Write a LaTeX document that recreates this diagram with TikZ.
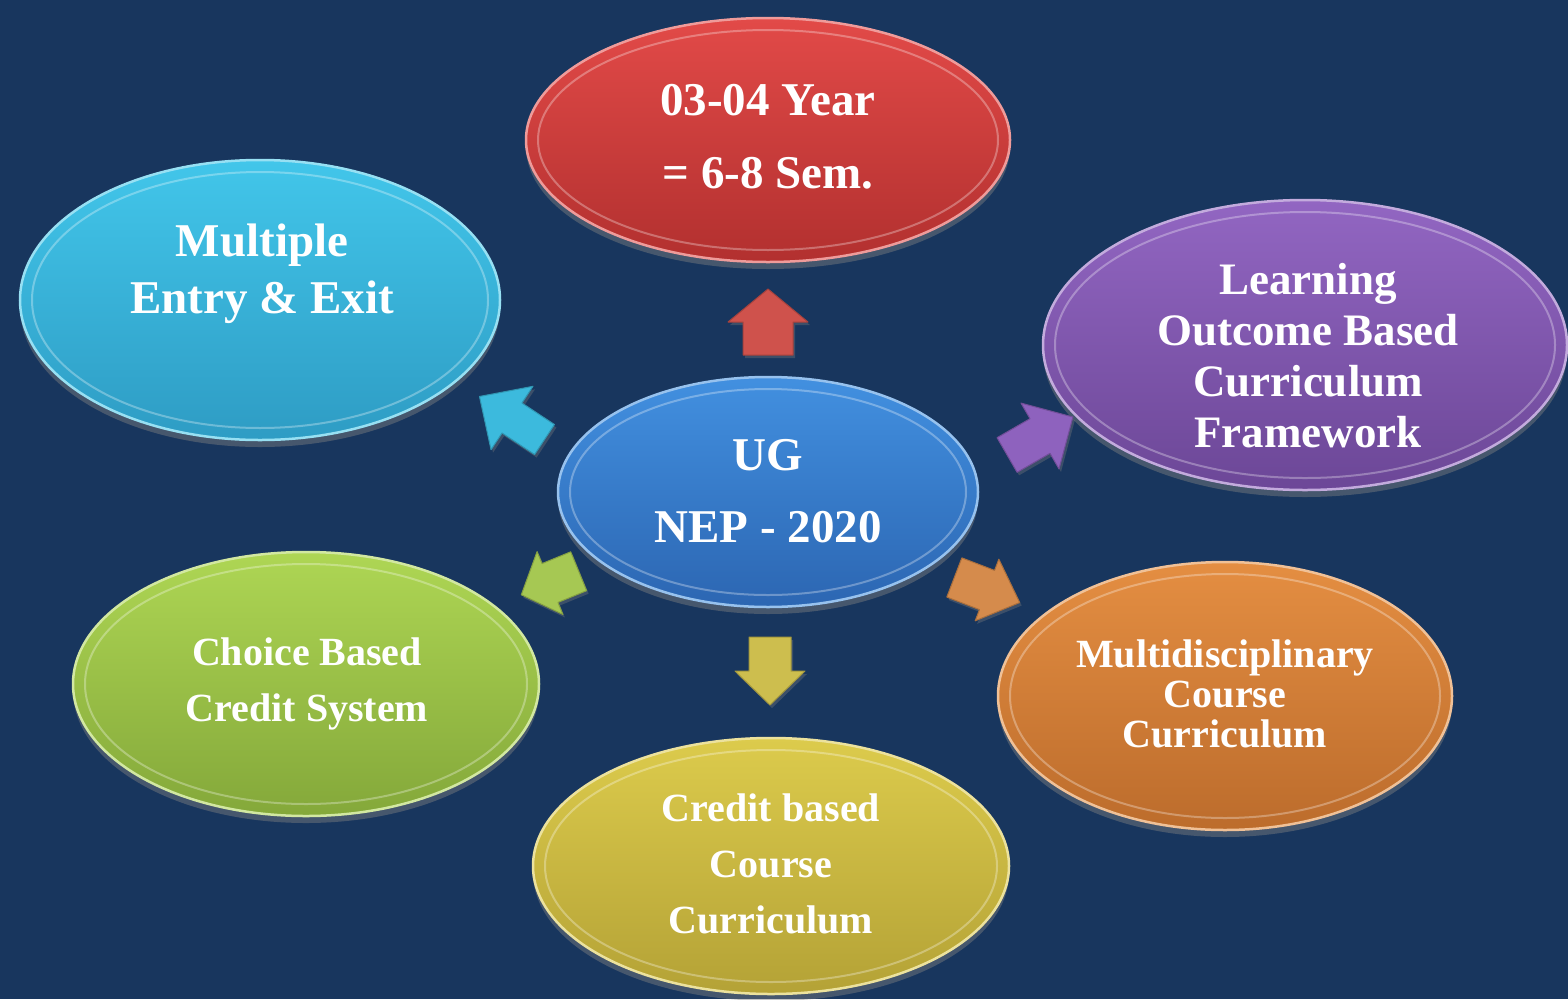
\documentclass[tikz,border=0pt]{standalone}
\usepackage{fontspec}
\setmainfont{Liberation Serif}
\usetikzlibrary{shapes.geometric,shadows}
\definecolor{bg}{HTML}{18365E}
\definecolor{redA}{HTML}{E24A48}\definecolor{redB}{HTML}{B2302F}
\definecolor{cyanA}{HTML}{42C6EA}\definecolor{cyanB}{HTML}{2E9CC4}
\definecolor{purA}{HTML}{9266C2}\definecolor{purB}{HTML}{6C4797}
\definecolor{bluA}{HTML}{4290E0}\definecolor{bluB}{HTML}{2C66B2}
\definecolor{grnA}{HTML}{AED654}\definecolor{grnB}{HTML}{84A83A}
\definecolor{yelA}{HTML}{DCCB4C}\definecolor{yelB}{HTML}{B4A236}
\definecolor{orgA}{HTML}{E48E42}\definecolor{orgB}{HTML}{BC6C2C}
\definecolor{aRedC}{HTML}{CF524C}\definecolor{aYelC}{HTML}{CDBE4E}
\definecolor{aCyanC}{HTML}{3CBADD}\definecolor{aPurC}{HTML}{8E62BE}
\definecolor{aGrnC}{HTML}{A6C853}\definecolor{aOrgC}{HTML}{D58B4C}
\tikzset{
  bubble/.style n args={4}{ellipse, inner sep=0pt, minimum width=#1, minimum height=#2,
    top color=#3, bottom color=#4, draw=#3!55!white, line width=2.5pt,
    drop shadow={opacity=0.45, shadow xshift=0pt, shadow yshift=-7pt}},
  rim/.style={draw=white, opacity=0.3, line width=2pt},
  label/.style={text=white, font=\bfseries, align=center, inner sep=0pt}
}
\newcommand\blockarr[8]{% name x y angle colour halflen headhalf tailhalf
  \coordinate (#1) at (#2,#3);
  \fill[#5, draw=#5!80!black, line width=1pt, line join=round,
    shift={(#1)}, rotate=#4,
    drop shadow={opacity=0.35, shadow xshift=2pt, shadow yshift=-3pt}]
    (-#6,-#8) -- (0,-#8) -- (0,-#7) -- (#6,0) -- (0,#7) -- (0,#8) -- (-#6,#8) -- cycle;}
\begin{document}
\begin{tikzpicture}[x=1pt,y=-1pt]
\fill[bg] (0,0) rectangle (1568,999);
\useasboundingbox (0,0) rectangle (1568,999);

% ellipses
\node[bubble={484pt}{244pt}{redA}{redB}] (red) at (768,140) {};
\node[bubble={480pt}{280pt}{cyanA}{cyanB}] (cyan) at (260,300) {};
\node[bubble={524pt}{290pt}{purA}{purB}] (pur) at (1305,345) {};
\node[bubble={420pt}{230pt}{bluA}{bluB}] (blu) at (768,492) {};
\node[bubble={466pt}{264pt}{grnA}{grnB}] (grn) at (306,684) {};
\node[bubble={476pt}{256pt}{yelA}{yelB}] (yel) at (771,866) {};
\node[bubble={454pt}{268pt}{orgA}{orgB}] (org) at (1225,696) {};

\foreach \n/\rx/\ry in {red/230/110, cyan/228/128, pur/250/133, blu/198/103, grn/221/120, yel/226/116, org/215/122}
  \draw[rim] (\n.center) ellipse ({\rx pt} and {\ry pt});

% arrows
\blockarr{aRed}{768}{322}{90}{aRedC}{33}{40}{25}
\blockarr{aYel}{770}{671}{-90}{aYelC}{34}{35}{21}
\blockarr{aCyan}{512}{418}{146.5}{aCyanC}{39}{38}{18}
\blockarr{aPur}{1040}{436}{30}{aPurC}{38}{38}{20}
\blockarr{aGrn}{550}{583}{202.3}{aGrnC}{31}{34}{21}
\blockarr{aOrg}{987}{590}{-21}{aOrgC}{35}{33}{21}

% texts
\node[label, font=\bfseries\fontsize{47}{73}\selectfont] (tRed) at (768,137) {03-04 Year\\= 6-8 Sem.};
\node[label, font=\bfseries\fontsize{47}{57}\selectfont] (tCyan) at (262,274) {Multiple\\Entry \& Exit};
\node[label, font=\bfseries\fontsize{47}{72}\selectfont] (tBlu) at (768,491) {UG\\NEP - 2020};
\node[label, font=\bfseries\fontsize{45}{51}\selectfont] (tPur) at (1308,356) {Learning\\Outcome Based\\Curriculum\\Framework};
\node[label, font=\bfseries\fontsize{40}{56}\selectfont] (tGrn) at (307,684) {Choice Based\\Credit System};
\node[label, font=\bfseries\fontsize{40}{56}\selectfont] (tYel) at (771,864) {Credit based\\Course\\Curriculum};
\node[label, font=\bfseries\fontsize{40}{40}\selectfont] (tOrg) at (1225,694) {Multidisciplinary\\Course\\Curriculum};
\end{tikzpicture}
\end{document}
